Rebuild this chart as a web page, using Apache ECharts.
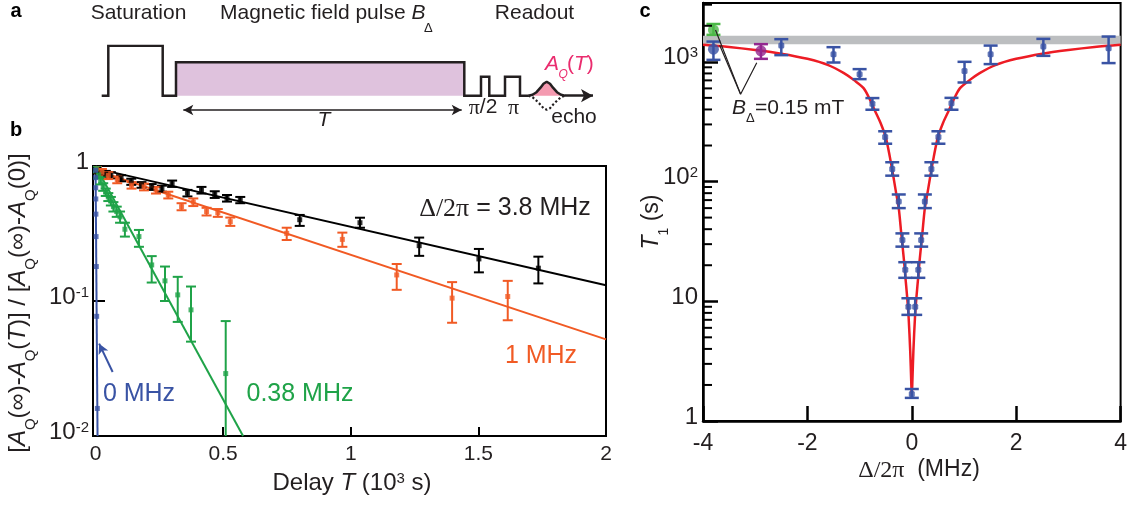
<!DOCTYPE html>
<html><head><meta charset="utf-8">
<script src="https://cdn.jsdelivr.net/npm/echarts@6/dist/echarts.min.js"></script>
<style>html,body{margin:0;padding:0;background:#fff}#chart{width:1130px;height:505px}</style>
</head><body><div id="chart"></div>
<script>
// ---------- Panel a: pulse sequence (schematic units) ----------
const seqX = [0.34, 1.66, 1.66, 12.54, 12.54, 15.2, 15.2, 72.86, 72.86, 76.2, 76.2, 77.86, 77.86, 81.0, 81.0, 84.0, 84.0, 85.66];
const seqY = [0, 0, 1, 1, 0, 0, 0.668, 0.668, 0, 0, 0.38, 0.38, 0, 0, 0.38, 0.38, 0, 0];
const fieldX = [15.2, 72.86];
const fieldY = [0.668, 0.668];
const echoX = [85.66, 86.5, 87.3, 88.1, 88.7, 89.34, 90.0, 90.6, 91.4, 92.2, 93.0];
const echoY = [0, 0.02, 0.07, 0.16, 0.24, 0.28, 0.24, 0.16, 0.07, 0.02, 0];
const dipY  = [0, -0.03, -0.1, -0.18, -0.25, -0.28, -0.25, -0.18, -0.1, -0.03, 0];
const readArrowX = [93.0, 98.6];
const delayArrowX = [16.66, 72.34];
const delayArrowY = -0.286;

// ---------- Panel b: decay curves (delay in 10^3 s) ----------
const blackT = [0.004, 0.02, 0.04, 0.06, 0.10, 0.14, 0.18, 0.22, 0.26, 0.30, 0.36, 0.415, 0.467, 0.515, 0.567, 0.80, 1.036, 1.268, 1.502, 1.735];
const blackA = [0.93, 0.89, 0.87, 0.855, 0.81, 0.765, 0.725, 0.70, 0.68, 0.74, 0.63, 0.66, 0.615, 0.575, 0.56, 0.40, 0.38, 0.257, 0.205, 0.175];
const blackLo = [0.88, 0.84, 0.82, 0.81, 0.77, 0.725, 0.69, 0.665, 0.645, 0.70, 0.595, 0.625, 0.58, 0.545, 0.53, 0.36, 0.349, 0.216, 0.163, 0.135];
const blackHi = [0.98, 0.94, 0.92, 0.90, 0.855, 0.805, 0.76, 0.735, 0.715, 0.78, 0.665, 0.70, 0.65, 0.61, 0.59, 0.434, 0.414, 0.295, 0.243, 0.213];

const orangeT = [0.005, 0.025, 0.05, 0.085, 0.141, 0.19, 0.237, 0.285, 0.337, 0.383, 0.435, 0.479, 0.528, 0.749, 0.967, 1.18, 1.397, 1.615];
const orangeA = [0.95, 0.90, 0.85, 0.79, 0.72, 0.70, 0.664, 0.61, 0.50, 0.54, 0.46, 0.45, 0.387, 0.317, 0.286, 0.156, 0.105, 0.108];
const orangeLo = [0.90, 0.85, 0.80, 0.745, 0.68, 0.66, 0.625, 0.575, 0.47, 0.505, 0.43, 0.42, 0.36, 0.283, 0.252, 0.121, 0.069, 0.072];
const orangeHi = [1.0, 0.95, 0.90, 0.835, 0.76, 0.74, 0.70, 0.645, 0.53, 0.575, 0.49, 0.48, 0.415, 0.349, 0.321, 0.188, 0.138, 0.141];

const greenT = [0.002, 0.012, 0.02, 0.03, 0.04, 0.05, 0.06, 0.07, 0.083, 0.096, 0.115, 0.17, 0.22, 0.272, 0.322, 0.374, 0.51];
const greenA = [0.95, 0.86, 0.78, 0.70, 0.64, 0.59, 0.55, 0.50, 0.46, 0.42, 0.34, 0.30, 0.185, 0.141, 0.111, 0.086, 0.029];
const greenLo = [0.90, 0.81, 0.73, 0.655, 0.60, 0.55, 0.51, 0.46, 0.42, 0.38, 0.30, 0.252, 0.137, 0.10, 0.070, 0.050, 0.005];
const greenHi = [1.0, 0.91, 0.83, 0.745, 0.68, 0.63, 0.59, 0.54, 0.50, 0.46, 0.38, 0.336, 0.215, 0.18, 0.151, 0.128, 0.071];

const blueT = [0.0001, 0.0003, 0.0006, 0.001, 0.0014, 0.002, 0.003, 0.0044, 0.007];
const blueA = [0.93, 0.82, 0.69, 0.57, 0.44, 0.30, 0.18, 0.077, 0.016];

const fitBlackT = [0, 2],  fitBlackA = [0.96, 0.131];
const fitOrangeT = [0, 2], fitOrangeA = [0.93, 0.052];
const fitGreenT = [0, 0.578], fitGreenA = [1.0, 0.01];
const fitBlueT = [0, 0.0078], fitBlueA = [1.0, 0.01];
const arrowBX = [0.067, 0.014], arrowBY = [0.0298, 0.0483];

const bTickLabels = [0, 0.5, 1, 1.5, 2];
const bTicks = [0.5, 1, 1.5];

// ---------- Panel c: T1 vs detuning ----------
const detX = [-2.50, -1.50, -1.00, -0.755, -0.51, -0.375, -0.25, -0.18, -0.125, -0.065, 0, 0.065, 0.125, 0.18, 0.25, 0.375, 0.51, 0.76, 1.01, 1.51, 2.52, 3.77];
const t1 = [1367, 1159, 789, 447, 236, 127, 68, 32.5, 18.3, 9.0, 1.68, 9.0, 18.3, 32.5, 68, 127, 236, 450, 840, 1159, 1340, 1300];
const t1Lo = [1137, 987, 717, 398, 207, 112, 60, 28.6, 15.7, 7.7, 1.56, 7.7, 15.7, 28.6, 60, 112, 207, 398, 672, 957, 1122, 976];
const t1Hi = [1546, 1326, 869, 498, 263, 145, 78, 36.9, 21.2, 10.6, 1.85, 10.6, 21.2, 36.9, 78, 145, 263, 500, 1000, 1367, 1555, 1626];

const bigX = [-3.80, -3.80, -2.89];
const bigT1 = [1276, 1848, 1235];
const bigLo = [1039, 1680, 1059];
const bigHi = [1476, 2070, 1405];
const bigColors = ['#3953a4', '#4cb848', '#92278f'];

const fitDx = [-4, -3.5, -3, -2.5, -2, -1.6, -1.3, -1.1, -0.92, -0.8, -0.7, -0.6, -0.5, -0.42, -0.35, -0.3, -0.25, -0.2, -0.15, -0.125, -0.09, -0.062, -0.03, -0.012, 0,
               0.012, 0.03, 0.062, 0.09, 0.125, 0.15, 0.2, 0.25, 0.3, 0.35, 0.42, 0.5, 0.6, 0.7, 0.8, 0.92, 1.1, 1.3, 1.6, 2, 2.5, 3, 3.5, 4];
const fitT1 = [1390, 1330, 1255, 1170, 1060, 940, 805, 700, 600, 480, 385, 310, 235, 160, 108, 80, 60, 36, 22, 16.3, 11, 7.5, 3.8, 2.2, 1.6,
               2.2, 3.8, 7.5, 11, 16.3, 22, 36, 60, 80, 108, 160, 235, 310, 385, 480, 600, 700, 805, 940, 1060, 1170, 1255, 1330, 1390];
const bandT1 = [1400, 1650];
const annoAX = [-3.76, -3.28, -2.97], annoAY = [1842, 537, 981];
const annoBX = [-3.68, -3.28], annoBY = [1378, 537];
const cMinorTicks = [2,3,4,5,6,7,8,9,20,30,40,50,60,70,80,90,200,300,400,500,600,700,800,900,2000,3000];

// ---------- helpers ----------
const FONT = "'Liberation Sans', Arial, Helvetica, sans-serif";
const SERIF = "'Liberation Serif', 'DejaVu Serif', serif";
const INK = '#231f20';
const zip = (a, b) => a.map((v, i) => [v, b[i]]);
const zip3 = (a, b, c) => a.map((v, i) => [v, b[i], c[i]]);
function rich(size, color) {
  const lh = Math.round(size * 1.35);
  return {
    n: {fontSize: size, fontFamily: FONT, color, lineHeight: lh, verticalAlign: 'top'},
    i: {fontSize: size, fontFamily: FONT, fontStyle: 'italic', color, lineHeight: lh, verticalAlign: 'top'},
    g: {fontSize: Math.round(size * 1.05), fontFamily: SERIF, color, lineHeight: lh, verticalAlign: 'top'},
    s: {fontSize: Math.round(size * 0.62), fontFamily: FONT, color, lineHeight: Math.round(size * 0.75), verticalAlign: 'bottom'},
    p: {fontSize: Math.round(size * 0.62), fontFamily: FONT, color, lineHeight: Math.round(size * 0.95), verticalAlign: 'top'}
  };
}
function errBar(capHalf, color, width) {
  return function (params, api) {
    const x = api.value(0), lo = api.value(1), hi = api.value(2);
    const a = api.coord([x, lo]), b = api.coord([x, hi]);
    const st = {stroke: color, lineWidth: width};
    return {type: 'group', children: [
      {type: 'line', shape: {x1: a[0], y1: a[1], x2: b[0], y2: b[1]}, style: st},
      {type: 'line', shape: {x1: a[0] - capHalf, y1: a[1], x2: a[0] + capHalf, y2: a[1]}, style: st},
      {type: 'line', shape: {x1: b[0] - capHalf, y1: b[1], x2: b[0] + capHalf, y2: b[1]}, style: st}
    ]};
  };
}
function txt(x, y, text, size, color, opts) {
  opts = opts || {};
  return {type: 'text', x, y, rotation: opts.rot || 0, z: 100, silent: true,
    style: {text, rich: rich(size, color), fill: color, font: (opts.bold ? 'bold ' : '') + size + 'px ' + FONT,
      align: opts.align || 'center', textAlign: opts.align || 'center',
      verticalAlign: 'middle', textVerticalAlign: 'middle'}};
}

const bColors = {black: '#000000', orange: '#f15a24', green: '#1fa348', blue: '#3953a4'};

const series = [];
// ---- panel a ----
series.push({type: 'line', xAxisIndex: 0, yAxisIndex: 0, data: zip(fieldX, fieldY), symbol: 'none', silent: true,
  lineStyle: {width: 0}, areaStyle: {color: '#dfc2dd', opacity: 1}, z: 1,
  markLine: {silent: true, symbol: ['arrow', 'arrow'], symbolSize: [8, 10], label: {show: false},
    lineStyle: {color: INK, width: 1.5, type: 'solid'},
    data: [[{coord: [delayArrowX[0], delayArrowY]}, {coord: [delayArrowX[1], delayArrowY]}]]}});
series.push({type: 'line', xAxisIndex: 0, yAxisIndex: 0, data: zip(echoX, echoY), symbol: 'none', silent: true,
  lineStyle: {color: INK, width: 2.5}, areaStyle: {color: '#f49ab0', opacity: 1}, z: 2});
series.push({type: 'line', xAxisIndex: 0, yAxisIndex: 0, data: zip(echoX, dipY), symbol: 'none', silent: true,
  lineStyle: {color: INK, width: 2.2, type: 'dotted'}, z: 2});
series.push({type: 'line', xAxisIndex: 0, yAxisIndex: 0, data: zip(seqX, seqY), symbol: 'none', silent: true,
  lineStyle: {color: INK, width: 2.5, join: 'miter'}, z: 3,
  markLine: {silent: true, symbol: ['none', 'arrow'], symbolSize: [10, 12], label: {show: false},
    lineStyle: {color: INK, width: 2.5, type: 'solid'},
    data: [[{coord: [readArrowX[0], 0]}, {coord: [readArrowX[1], 0]}]]}});

// ---- panel b ----
const bSets = [
  ['black', fitBlackT, fitBlackA, blackT, blackA, blackLo, blackHi],
  ['orange', fitOrangeT, fitOrangeA, orangeT, orangeA, orangeLo, orangeHi],
  ['green', fitGreenT, fitGreenA, greenT, greenA, greenLo, greenHi]
];
bSets.forEach(s => {
  const c = bColors[s[0]];
  series.push({type: 'line', xAxisIndex: 1, yAxisIndex: 1, data: zip(s[1], s[2]), symbol: 'none', silent: true,
    lineStyle: {color: c, width: 2}, z: 2});
  series.push({type: 'custom', xAxisIndex: 1, yAxisIndex: 1, data: zip3(s[3], s[5], s[6]), renderItem: errBar(5, c, 2),
    encode: {x: 0, y: [1, 2]}, clip: true, silent: true, z: 3});
  series.push({type: 'scatter', xAxisIndex: 1, yAxisIndex: 1, data: zip(s[3], s[4]), symbol: 'rect', symbolSize: 5,
    itemStyle: {color: c}, silent: true, z: 4});
});
series.push({type: 'line', xAxisIndex: 1, yAxisIndex: 1, data: zip(fitBlueT, fitBlueA), symbol: 'none', silent: true,
  lineStyle: {color: bColors.blue, width: 2}, z: 2,
  markLine: {silent: true, symbol: ['none', 'arrow'], symbolSize: [8, 10], label: {show: false},
    lineStyle: {color: bColors.blue, width: 2, type: 'solid'},
    data: [[{coord: [arrowBX[0], arrowBY[0]]}, {coord: [arrowBX[1], arrowBY[1]]}]]}});
series.push({type: 'scatter', xAxisIndex: 1, yAxisIndex: 1, data: zip(blueT, blueA), symbol: 'rect', symbolSize: 5,
  itemStyle: {color: bColors.blue}, silent: true, z: 4});

// ---- panel c ----
series.push({type: 'line', xAxisIndex: 2, yAxisIndex: 2, data: zip(fitDx, fitT1), symbol: 'none', smooth: 0.3, silent: true,
  lineStyle: {color: '#ed1c24', width: 2.5}, z: 2,
  markArea: {silent: true, itemStyle: {color: '#bcbec0', opacity: 1},
    data: [[{xAxis: -4, yAxis: bandT1[0]}, {xAxis: 4, yAxis: bandT1[1]}]]}});
series.push({type: 'line', xAxisIndex: 2, yAxisIndex: 2, data: zip(annoAX, annoAY), symbol: 'none', silent: true,
  lineStyle: {color: INK, width: 1.2}, z: 5});
series.push({type: 'line', xAxisIndex: 2, yAxisIndex: 2, data: zip(annoBX, annoBY), symbol: 'none', silent: true,
  lineStyle: {color: INK, width: 1.2}, z: 5});
series.push({type: 'custom', xAxisIndex: 2, yAxisIndex: 2, data: zip3(detX, t1Lo, t1Hi), renderItem: errBar(7, '#3953a4', 2.5),
  encode: {x: 0, y: [1, 2]}, clip: true, silent: true, z: 3});
series.push({type: 'scatter', xAxisIndex: 2, yAxisIndex: 2, data: zip(detX, t1), symbol: 'roundRect', symbolSize: 6,
  itemStyle: {color: '#3953a4'}, silent: true, z: 4});
bigX.forEach((x, i) => {
  series.push({type: 'custom', xAxisIndex: 2, yAxisIndex: 2, data: [[x, bigLo[i], bigHi[i]]], renderItem: errBar(7, bigColors[i], 2.5),
    encode: {x: 0, y: [1, 2]}, clip: true, silent: true, z: 3});
  series.push({type: 'scatter', xAxisIndex: 2, yAxisIndex: 2, data: [[x, bigT1[i]]], symbol: 'circle', symbolSize: 11,
    itemStyle: {color: bigColors[i]}, silent: true, z: 4});
});
series.push({type: 'custom', xAxisIndex: 2, yAxisIndex: 2, data: cMinorTicks.map(v => [-4, v]), clip: true, silent: true, z: 6,
  encode: {x: 0, y: 1},
  renderItem: function (params, api) {
    const p = api.coord([api.value(0), api.value(1)]);
    return {type: 'line', shape: {x1: p[0], y1: p[1], x2: p[0] + 9, y2: p[1]}, style: {stroke: '#000', lineWidth: 2}};
  }});

const bLabRich = rich(24, INK);
const cLabRich = rich(24, INK);

const option = {
  animation: false,
  backgroundColor: '#ffffff',
  textStyle: {fontFamily: FONT},
  grid: [
    {left: 100, top: 45.7, width: 500, height: 80, show: false},
    {left: 93, top: 166, width: 513, height: 270, show: true, borderColor: '#000', borderWidth: 2, backgroundColor: 'transparent'},
    {left: 703, top: 3, width: 425, height: 418, show: true, borderColor: '#000', borderWidth: 2, backgroundColor: 'transparent'}
  ],
  xAxis: [
    {gridIndex: 0, type: 'value', min: 0, max: 100, show: false},
    {gridIndex: 1, type: 'value', min: -0.01, max: 2, position: 'bottom',
      axisLine: {show: true, onZero: false, lineStyle: {color: '#000', width: 2}},
      axisTick: {show: true, inside: true, length: 9, customValues: bTicks, lineStyle: {color: '#000', width: 2}},
      axisLabel: {show: true, customValues: bTickLabels, margin: 8, color: INK, fontSize: 21, fontFamily: FONT,
        formatter: v => String(v)},
      splitLine: {show: false}},
    {gridIndex: 2, type: 'value', min: -4, max: 4, interval: 2, position: 'bottom',
      axisLine: {show: true, onZero: false, lineStyle: {color: '#000', width: 2.5}},
      axisTick: {show: true, inside: true, length: 15, lineStyle: {color: '#000', width: 2.5}},
      axisLabel: {show: true, margin: 11, color: INK, fontSize: 23, fontFamily: FONT, showMinLabel: true, showMaxLabel: true},
      splitLine: {show: false}}
  ],
  yAxis: [
    {gridIndex: 0, type: 'value', min: -0.6, max: 1, show: false},
    {gridIndex: 1, type: 'log', logBase: 10, min: 0.01, max: 1, position: 'left',
      axisLine: {show: true, onZero: false, lineStyle: {color: '#000', width: 2}},
      axisTick: {show: true, inside: true, length: 12, lineStyle: {color: '#000', width: 2}},
      axisLabel: {show: true, margin: 4, showMinLabel: true, showMaxLabel: true, rich: bLabRich,
        formatter: v => { const e = Math.round(Math.log10(v)); return e === 0 ? '{n|1}' : '{n|10}{p|' + e + '}'; }},
      splitLine: {show: false}},
    {gridIndex: 2, type: 'log', logBase: 10, min: 1, max: 3100, position: 'left',
      axisLine: {show: true, onZero: false, lineStyle: {color: '#000', width: 2.5}},
      axisTick: {show: true, inside: true, length: 15, lineStyle: {color: '#000', width: 2.5}},
      axisLabel: {show: true, margin: 5, showMinLabel: true, showMaxLabel: false, rich: cLabRich,
        formatter: v => { const e = Math.round(Math.log10(v)); return e === 0 ? '{n|1}' : (e === 1 ? '{n|10}' : '{n|10}{p|' + e + '}'); }},
      splitLine: {show: false}}
  ],
  graphic: [
    txt(16, 11, 'a', 20, '#000', {bold: true}),
    txt(16, 130, 'b', 20, '#000', {bold: true}),
    txt(645, 11, 'c', 20, '#000', {bold: true}),
    txt(138.5, 17, '{n|Saturation}', 21, INK),
    txt(220, 17, '{n|Magnetic field pulse }{i|B}', 21, INK, {align: 'left'}),
    txt(424, 31, '{n|Δ}', 13, INK, {align: 'left'}),
    txt(534.5, 17, '{n|Readout}', 21, INK),
    txt(324, 124, '{i|T}', 21, INK),
    txt(483, 111, '{g|π}{n|/2}', 21, INK),
    txt(513.5, 111, '{g|π}', 21, INK),
    txt(574, 121, '{n|echo}', 21, INK),
    txt(545, 68, '{i|A}', 21, '#ea2c6e', {align: 'left'}),
    txt(558.5, 77, '{i|Q}', 12, '#ea2c6e', {align: 'left'}),
    txt(567, 68, '{n|(}{i|T}{n|)}', 21, '#ea2c6e', {align: 'left'}),
    // panel b
    txt(505, 213, '{g|Δ/2π}{n| = 3.8 MHz}', 25, INK),
    txt(541, 361, '{n|1 MHz}', 25, bColors.orange),
    txt(139, 399, '{n|0 MHz}', 25, bColors.blue),
    txt(300, 399, '{n|0.38 MHz}', 25, bColors.green),
    txt(352, 487, '{n|Delay }{i|T}{n| (10}{p|3}{n| s)}', 24, INK),
    txt(22, 303, '{n|[}{i|A}{s|Q}{n|(∞)-}{i|A}{s|Q}{n|(}{i|T}{n|)] / [}{i|A}{s|Q}{n|(∞)-}{i|A}{s|Q}{n|(0)]}', 24, INK, {rot: Math.PI / 2}),
    // panel c
    txt(656, 222, '{i|T}{s|1}{n| (s)}', 23, INK, {rot: Math.PI / 2}),
    txt(919, 474, '{g|Δ/2π}{n|  (MHz)}', 23, INK),
    txt(732, 112, '{i|B}', 21, INK, {align: 'left'}),
    txt(746, 121, '{n|Δ}', 13, INK, {align: 'left'}),
    txt(755, 112, '{n|=0.15 mT}', 21, INK, {align: 'left'})
  ],
  series
};
const chart = echarts.init(document.getElementById('chart'), null, {renderer: 'canvas'});
chart.setOption(option);
</script>
</body></html>
